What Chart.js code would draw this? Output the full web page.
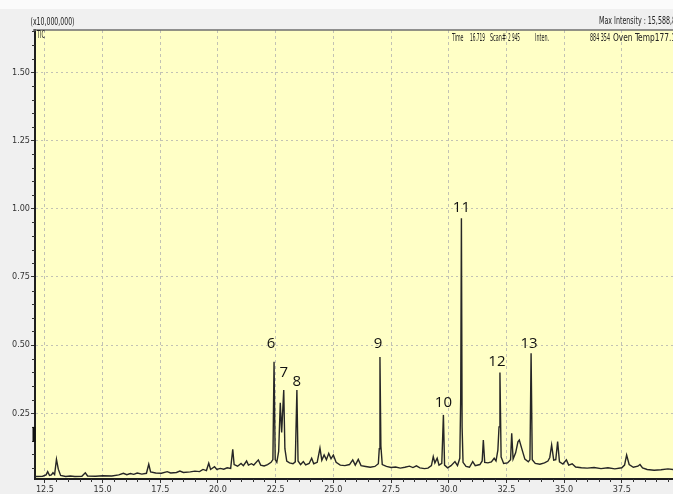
<!DOCTYPE html>
<html>
<head>
<meta charset="utf-8">
<script src="https://cdn.jsdelivr.net/npm/chart.js@4/dist/chart.umd.min.js"></script>
<style>
  html, body { margin: 0; padding: 0; background: #f0f0f0; overflow: hidden; }
  canvas { display: block; }
</style>
</head>
<body>
<canvas id="tic" width="673" height="494"></canvas>
<script>
// Total ion chromatogram: retention time (min) vs intensity (x10,000,000)
const retentionTimes = [
  12.07, 12.40, 12.55, 12.62, 12.70, 12.78, 12.85, 12.92, 13.00, 13.08, 13.18, 13.40, 13.60, 13.80,
  14.10, 14.25, 14.35, 14.70, 15.00, 15.40, 15.70, 15.90, 16.05, 16.20, 16.35, 16.50, 16.70, 16.90,
  17.00, 17.08, 17.30, 17.55, 17.80, 17.95, 18.20, 18.35, 18.50, 18.80, 19.00, 19.20, 19.35, 19.50,
  19.60, 19.68, 19.85, 19.95, 20.10, 20.25, 20.40, 20.55, 20.64, 20.70, 20.85, 21.00, 21.10, 21.24,
  21.32, 21.45, 21.55, 21.75, 21.85, 22.00, 22.15, 22.30, 22.38, 22.43, 22.48, 22.55, 22.63, 22.70,
  22.76, 22.85, 22.90, 22.98, 23.10, 23.25, 23.35, 23.42, 23.47, 23.58, 23.70, 23.80, 23.95, 24.06,
  24.15, 24.30, 24.42, 24.50, 24.60, 24.70, 24.80, 24.90, 25.00, 25.12, 25.30, 25.50, 25.70, 25.84,
  25.95, 26.08, 26.20, 26.40, 26.60, 26.80, 26.95, 26.99, 27.02, 27.06, 27.12, 27.30, 27.50, 27.70,
  27.90, 28.10, 28.30, 28.45, 28.60, 28.75, 28.95, 29.10, 29.25, 29.33, 29.40, 29.50, 29.58, 29.70,
  29.77, 29.82, 29.95, 30.10, 30.27, 30.38, 30.48, 30.52, 30.55, 30.58, 30.62, 30.75, 30.90, 31.04,
  31.15, 31.35, 31.45, 31.50, 31.56, 31.70, 31.85, 31.97, 32.05, 32.13, 32.18, 32.22, 32.27, 32.38,
  32.55, 32.68, 32.73, 32.79, 32.90, 33.00, 33.06, 33.15, 33.30, 33.45, 33.52, 33.57, 33.62, 33.75,
  33.95, 34.15, 34.30, 34.38, 34.46, 34.55, 34.64, 34.72, 34.80, 34.95, 35.10, 35.20, 35.35, 35.50,
  35.75, 36.00, 36.30, 36.60, 36.90, 37.20, 37.50, 37.62, 37.71, 37.82, 38.00, 38.20, 38.29, 38.40,
  38.60, 38.90, 39.20, 39.50, 39.72
];
const intensities = [
  0.018, 0.019, 0.024, 0.036, 0.022, 0.024, 0.032, 0.025, 0.081, 0.045, 0.022, 0.018, 0.020, 0.018,
  0.019, 0.032, 0.020, 0.019, 0.021, 0.020, 0.024, 0.030, 0.025, 0.029, 0.026, 0.031, 0.027, 0.030,
  0.063, 0.035, 0.031, 0.030, 0.036, 0.031, 0.033, 0.038, 0.033, 0.035, 0.038, 0.036, 0.044, 0.040,
  0.067, 0.044, 0.054, 0.044, 0.048, 0.045, 0.050, 0.048, 0.118, 0.062, 0.056, 0.066, 0.058, 0.075,
  0.060, 0.065, 0.060, 0.079, 0.060, 0.057, 0.062, 0.070, 0.080, 0.439, 0.080, 0.070, 0.110, 0.288,
  0.180, 0.335, 0.120, 0.075, 0.068, 0.065, 0.072, 0.335, 0.075, 0.062, 0.073, 0.061, 0.066, 0.085,
  0.065, 0.070, 0.122, 0.078, 0.097, 0.080, 0.103, 0.083, 0.097, 0.070, 0.060, 0.058, 0.062, 0.079,
  0.060, 0.081, 0.058, 0.055, 0.052, 0.055, 0.065, 0.120, 0.456, 0.130, 0.062, 0.055, 0.051, 0.053,
  0.049, 0.052, 0.056, 0.051, 0.057, 0.050, 0.047, 0.049, 0.058, 0.091, 0.068, 0.085, 0.060, 0.066,
  0.244, 0.060, 0.050, 0.058, 0.073, 0.058, 0.085, 0.310, 0.965, 0.200, 0.070, 0.055, 0.052, 0.073,
  0.058, 0.062, 0.075, 0.152, 0.070, 0.068, 0.072, 0.085, 0.075, 0.115, 0.200, 0.399, 0.090, 0.066,
  0.068, 0.080, 0.177, 0.082, 0.105, 0.145, 0.152, 0.125, 0.082, 0.072, 0.080, 0.470, 0.080, 0.066,
  0.063, 0.068, 0.075, 0.088, 0.134, 0.078, 0.080, 0.146, 0.072, 0.064, 0.079, 0.060, 0.065, 0.053,
  0.050, 0.049, 0.051, 0.047, 0.050, 0.046, 0.050, 0.060, 0.097, 0.062, 0.052, 0.056, 0.062, 0.050,
  0.044, 0.041, 0.043, 0.046, 0.044
];

// Numbered compounds and the retention times of their peaks
const peakNumbers = ['6', '7', '8', '9', '10', '11', '12', '13'];
const peakTimes = [22.43, 22.85, 23.42, 27.02, 29.77, 30.55, 32.22, 33.57];

// Axis ticks
const xTickValues = [12.5, 15.0, 17.5, 20.0, 22.5, 25.0, 27.5, 30.0, 32.5, 35.0, 37.5];
const yTickValues = [0.25, 0.50, 0.75, 1.00, 1.25, 1.50];

const NARROW = '"Liberation Sans Narrow", "DejaVu Sans Condensed", "Liberation Sans", sans-serif';

function peakHeight(t) {
  return intensities[retentionTimes.indexOf(t)];
}

// Draws a string squeezed horizontally to a given width
function fitText(ctx, str, x, y, w) {
  const m = ctx.measureText(str).width;
  ctx.save();
  ctx.translate(x, y);
  ctx.scale(w / m, 1);
  ctx.fillText(str, 0, 0);
  ctx.restore();
}

const panelBackground = {
  id: 'panelBackground',
  beforeDraw(chart) {
    const { ctx, chartArea: a, width, height } = chart;
    ctx.save();
    ctx.fillStyle = '#f0f0f0';
    ctx.fillRect(0, 0, width, height);
    ctx.fillStyle = '#fbfbfb';
    ctx.fillRect(0, 0, width, 9);
    ctx.fillStyle = '#ffffc6';
    ctx.fillRect(a.left, a.top, a.right - a.left, a.bottom - a.top);
    ctx.restore();
  }
};

const overlay = {
  id: 'overlay',
  afterDraw(chart, args, opts) {
    const { ctx, chartArea: a, scales: { x, y } } = chart;
    ctx.save();

    // minor ticks
    ctx.strokeStyle = '#333';
    ctx.lineWidth = 1;
    ctx.beginPath();
    for (let i = 1; i <= 33; i++) {
      if (i % 5 === 0) continue;
      const py = Math.round(y.getPixelForValue(i * 0.05)) + 0.5;
      if (py < a.top || py > a.bottom) continue;
      ctx.moveTo(a.left - 3, py);
      ctx.lineTo(a.left, py);
    }
    for (let i = 25; i <= 79; i++) {
      if (i % 5 === 0) continue;
      const px = Math.round(x.getPixelForValue(i * 0.5)) + 0.5;
      if (px < a.left || px > a.right) continue;
      ctx.moveTo(px, a.bottom);
      ctx.lineTo(px, a.bottom + 3);
    }
    ctx.stroke();

    // frame top edge
    ctx.strokeStyle = '#6e6e6e';
    ctx.lineWidth = 1.5;
    ctx.beginPath();
    ctx.moveTo(a.left - 2, a.top);
    ctx.lineTo(a.right, a.top);
    ctx.stroke();

    // marker on the intensity axis
    ctx.strokeStyle = '#111';
    ctx.lineWidth = 3;
    ctx.beginPath();
    ctx.moveTo(a.left - 1, y.getPixelForValue(0.2));
    ctx.lineTo(a.left - 1, y.getPixelForValue(0.145));
    ctx.stroke();

    // header texts
    ctx.fillStyle = '#222';
    ctx.textBaseline = 'middle';
    ctx.textAlign = 'left';
    ctx.font = '10px ' + NARROW;
    fitText(ctx, '(x10,000,000)', 30.5, 22, 44);
    fitText(ctx, 'Max Intensity : 15,588,8', 599, 21, 77);
    fitText(ctx, 'TIC', 37, 35, 8);
    fitText(ctx, 'Time', 452, 38, 11.5);
    fitText(ctx, '16.719', 470, 38, 15);
    fitText(ctx, 'Scan#', 490, 38, 16);
    fitText(ctx, '2 945', 508, 38, 12);
    fitText(ctx, 'Inten.', 535, 38, 14);
    fitText(ctx, '884 354', 590, 38, 20);
    fitText(ctx, 'Oven Temp177.1', 613, 38, 63);

    // peak numbers
    ctx.fillStyle = '#111';
    ctx.textAlign = 'center';
    ctx.font = '15px "Open Sans", "Liberation Sans", sans-serif';
    peakNumbers.forEach((n, i) => {
      const t = peakTimes[i];
      const nudge = opts.labelNudges[n] || [0, -10];
      const px = x.getPixelForValue(t) + nudge[0];
      const py = y.getPixelForValue(peakHeight(t)) + nudge[1];
      ctx.fillText(n, px, py);
    });
    ctx.restore();
  }
};

const tickFont = { family: NARROW, size: 9 };

new Chart(document.getElementById('tic'), {
  type: 'line',
  data: {
    datasets: [{
      data: retentionTimes.map((t, i) => ({ x: t, y: intensities[i] })),
      borderColor: '#262626',
      borderWidth: 1.4,
      pointRadius: 0,
      tension: 0,
      fill: false
    }]
  },
  options: {
    responsive: false,
    animation: false,
    devicePixelRatio: 1,
    events: [],
    layout: { padding: { top: 30, left: 0, right: 0, bottom: 0 } },
    plugins: {
      legend: { display: false },
      tooltip: { enabled: false },
      overlay: {
        labelNudges: {
          '6': [-3, -18], '7': [0, -17], '8': [0, -8], '9': [-2, -13],
          '10': [0, -12], '11': [0, -10], '12': [-3, -11], '13': [-2, -10]
        }
      }
    },
    scales: {
      x: {
        type: 'linear',
        min: 12.07,
        max: 39.72,
        afterBuildTicks(s) { s.ticks = xTickValues.map(v => ({ value: v })); },
        afterFit(s) { s.height = 15; },
        ticks: {
          autoSkip: false, maxRotation: 0, padding: 1, color: '#333', font: tickFont,
          callback: v => Number(v).toFixed(1)
        },
        grid: { color: '#c2c2b4', lineWidth: 1, drawTicks: true, tickLength: 4, tickColor: '#333', tickWidth: 1 },
        border: { display: true, color: '#1e1e1e', width: 2, dash: [3, 3] }
      },
      y: {
        type: 'linear',
        min: 0.009,
        max: 1.655,
        afterBuildTicks(s) { s.ticks = yTickValues.map(v => ({ value: v })); },
        afterFit(s) { s.width = 35; },
        ticks: {
          autoSkip: false, padding: 1, color: '#333', font: tickFont,
          callback: v => Number(v).toFixed(2)
        },
        grid: { color: '#c2c2b4', lineWidth: 1, drawTicks: true, tickLength: 4, tickColor: '#333', tickWidth: 1 },
        border: { display: true, color: '#1e1e1e', width: 2, dash: [2, 3] }
      }
    }
  },
  plugins: [panelBackground, overlay]
});
</script>
</body>
</html>
